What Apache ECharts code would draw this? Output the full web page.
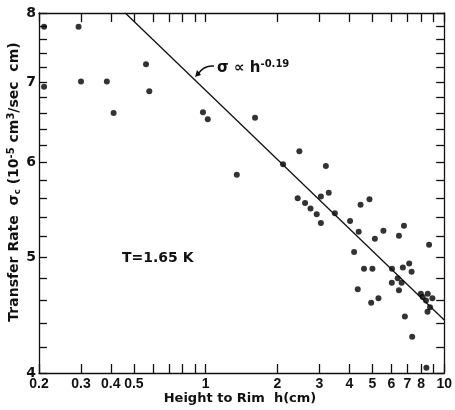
<!DOCTYPE html>
<html>
<head>
<meta charset="utf-8">
<script src="https://cdn.jsdelivr.net/npm/echarts@6/dist/echarts.min.js"></script>
<style>
  html, body { margin: 0; padding: 0; background: #fff; }
  #chart { width: 455px; height: 410px; }
</style>
</head>
<body>
<div id="chart"></div>
<script>
// 数据：高度 h (cm) 与传输速率 σc
const heights = [0.21, 0.293, 0.21, 0.30, 0.385, 0.411, 0.562, 0.58, 0.974, 1.02,
  1.35, 1.61, 2.11, 2.47, 3.19, 2.43, 2.61, 2.75, 2.92, 3.04,
  3.28, 3.48, 3.04, 4.46, 4.86, 4.03, 4.38, 5.56, 5.12, 6.78,
  6.46, 4.19, 8.64, 4.34, 4.94, 5.30, 6.04, 6.71, 7.13, 7.30,
  6.38, 6.03, 6.63, 6.46, 7.98, 8.13, 8.53, 8.39, 8.92, 8.72,
  8.51, 6.84, 7.34, 8.42, 4.61, 5.00]
const rates = [7.79, 7.79, 6.94, 7.01, 7.01, 6.60, 7.25, 6.88, 6.61, 6.52,
  5.86, 6.54, 5.98, 6.13, 5.96, 5.60, 5.55, 5.49, 5.43, 5.62,
  5.66, 5.44, 5.34, 5.53, 5.59, 5.36, 5.25, 5.26, 5.18, 5.31,
  5.21, 5.05, 5.12, 4.70, 4.58, 4.62, 4.89, 4.90, 4.94, 4.86,
  4.80, 4.76, 4.76, 4.69, 4.66, 4.63, 4.66, 4.60, 4.62, 4.54,
  4.50, 4.46, 4.29, 4.04, 4.89, 4.89]
// 拟合线 σ ∝ h^-0.19 的两个端点
const fitH = [0.46, 10]
const fitRate = [8, 4.43]

const xTicks = [0.2, 0.3, 0.4, 0.5, 0.6, 0.7, 0.8, 0.9, 1, 2, 3, 4, 5, 6, 7, 8, 9, 10]
const xLabels = [0.2, 0.3, 0.4, 0.5, 1, 2, 3, 4, 5, 6, 7, 8, 10]
const yTicks = [4, 4.2, 4.4, 4.6, 4.8, 5, 5.2, 5.4, 5.6, 5.8, 6, 6.2, 6.4, 6.6, 6.8,
  7, 7.2, 7.4, 7.6, 7.8, 8]
const yLabels = [4, 5, 6, 7, 8]

const font = "DejaVu Sans"
const points = heights.map((h, i) => [h, rates[i]])
const fitLine = fitH.map((h, i) => [h, fitRate[i]])

function xAxisOf(pos, showLabel) {
  return {
    type: "log", logBase: 10, min: 0.2, max: 10, position: pos,
    axisLine: { show: true, lineStyle: { color: "#111", width: 1.3 } },
    axisTick: { inside: true, length: 9, customValues: xTicks, lineStyle: { color: "#111", width: 1.3 } },
    axisLabel: {
      show: showLabel, customValues: xLabels, margin: 4, color: "#111",
      fontFamily: "Liberation Sans", fontWeight: "bold", fontSize: 14,
      formatter: v => String(+v.toFixed(2))
    },
    splitLine: { show: false }, minorTick: { show: false }
  }
}
function yAxisOf(pos, showLabel) {
  return {
    type: "log", logBase: 10, min: 4, max: 8, position: pos,
    axisLine: { show: true, lineStyle: { color: "#111", width: 1.3 } },
    axisTick: { inside: true, length: 8, customValues: yTicks, lineStyle: { color: "#111", width: 1.3 } },
    axisLabel: {
      show: showLabel, customValues: yLabels, margin: 3, color: "#111",
      fontFamily: font, fontWeight: "bold", fontSize: 14,
      formatter: v => String(Math.round(v))
    },
    splitLine: { show: false }, minorTick: { show: false }
  }
}

const chart = echarts.init(document.getElementById("chart"))
const option = {
  animation: false,
  backgroundColor: "#fff",
  grid: { left: 39, top: 13, right: 7, bottom: 37 },
  xAxis: [xAxisOf("bottom", true), xAxisOf("top", false)],
  yAxis: [yAxisOf("left", true), yAxisOf("right", false)],
  series: [
    {
      type: "line", data: fitLine, symbol: "none",
      lineStyle: { color: "#111", width: 1.3 }
    },
    {
      type: "scatter", data: points, symbol: "circle", symbolSize: 6,
      itemStyle: { color: "#000" }
    }
  ],
  graphic: [
    {
      type: "text", x: 14, y: 182, rotation: Math.PI / 2,
      style: {
        text: "Transfer Rate  σ{sub|c} (10{sup|-5} cm{sup|3}/sec  cm)",
        align: "center", verticalAlign: "middle",
        font: "bold 14px DejaVu Sans", fill: "#111",
        rich: {
          sub: { font: "bold 9px DejaVu Sans", verticalAlign: "bottom", padding: [6, 0, 0, 0] },
          sup: { font: "bold 10px DejaVu Sans", verticalAlign: "top", padding: [0, 0, 6, 0] }
        }
      }
    },
    {
      type: "text", x: 240, y: 399,
      style: {
        text: "Height to Rim  h(cm)", align: "center", verticalAlign: "middle",
        font: "bold 13px DejaVu Sans", fill: "#111"
      }
    },
    {
      type: "text", x: 122, y: 258,
      style: {
        text: "T=1.65 K", align: "left", verticalAlign: "middle",
        font: "bold 14px DejaVu Sans", fill: "#111"
      }
    },
    {
      type: "text", x: 217, y: 68,
      style: {
        text: "σ ∝ h{sup|-0.19}", align: "left", verticalAlign: "middle",
        font: "bold 15px DejaVu Sans", fill: "#111",
        rich: { sup: { font: "bold 10px DejaVu Sans", verticalAlign: "top", padding: [0, 0, 8, 0] } }
      }
    },
    {
      type: "bezierCurve",
      shape: { x1: 214, y1: 66, x2: 198, y2: 74, cpx1: 204, cpy1: 65 },
      style: { stroke: "#111", lineWidth: 1.5, fill: null }
    },
    {
      type: "polygon",
      shape: { points: [[195, 77], [197, 70], [201, 75]] },
      style: { fill: "#111" }
    }
  ]
}
chart.setOption(option)
</script>
</body>
</html>
